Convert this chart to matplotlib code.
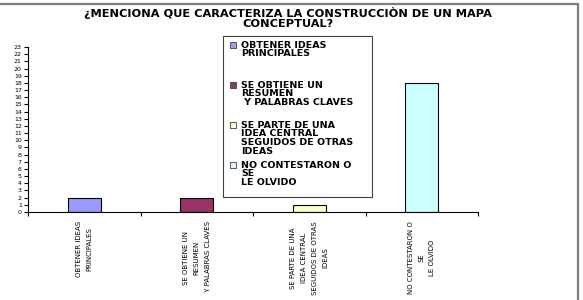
import matplotlib
matplotlib.use("Agg")
import matplotlib.pyplot as plt
from matplotlib.patches import Rectangle

title = "¿MENCIONA QUE CARACTERIZA LA CONSTRUCCIÒN DE UN MAPA\nCONCEPTUAL?"
categories = [
    "OBTENER IDEAS\nPRINCIPALES",
    "SE OBTIENE UN\nRESUMEN\n Y PALABRAS CLAVES",
    "SE PARTE DE UNA\nIDEA CENTRAL\nSEGUIDOS DE OTRAS\nIDEAS",
    "NO CONTESTARON O\nSE\nLE OLVIDO",
]
values = [2, 2, 1, 18]
colors = ["#9999FF", "#993366", "#FFFFCC", "#CCFFFF"]
y_ticks = list(range(0, 24))

W, H = 583, 300
fig = plt.figure(figsize=(W / 100, H / 100), dpi=100)
fig.patch.set_facecolor("white")

# outer frame (only top/right visible in the crop)
fig.patches.append(Rectangle((-0.02, -0.02), 578 / W + 0.02, 1 - 4 / H + 0.02,
                             transform=fig.transFigure, fill=False,
                             edgecolor="#7f7f7f", lw=1.6))

ax = fig.add_axes([28 / W, 1 - 212 / H, 450 / W, 165 / H])
x = list(range(len(values)))
ax.bar(x, values, width=0.29, color=colors, edgecolor="black", linewidth=0.8)
ax.set_xlim(-0.5, len(values) - 0.5)
ax.set_ylim(0, 23)

for s in ["top", "right"]:
    ax.spines[s].set_visible(False)
for s in ["left", "bottom"]:
    ax.spines[s].set_linewidth(0.8)

ax.set_yticks(y_ticks)
ax.tick_params(axis="y", length=3, width=0.8, pad=1.5, labelsize=4.5)

ax.set_xticks([i - 0.5 for i in range(len(values) + 1)])
ax.set_xticklabels([])
ax.tick_params(axis="x", which="major", length=3, width=0.8)
ax.set_xticks(x, categories, minor=True)
ax.tick_params(axis="x", which="minor", length=0, pad=6.5)
for t in ax.get_xticklabels(minor=True):
    t.set_rotation(90)
    t.set_multialignment("center")
    t.set_fontsize(5.0)
    t.set_family("DejaVu Sans")
    t.set_linespacing(1.95)

fig.text(288 / W, 1 - 7 / H, title, ha="center", va="top", fontsize=8.2,
         fontweight="bold", family="DejaVu Sans", linespacing=1.05)

# legend drawn by hand so each entry sits in its own fixed slot
fig.patches.append(Rectangle((223 / W, 1 - 197 / H), 149 / W, 161 / H,
                             transform=fig.transFigure, fill=True,
                             facecolor="white", edgecolor="#404040", lw=0.8, zorder=5))
for i, (lab, c) in enumerate(zip(categories, colors)):
    y0 = 45 + 40 * i
    fig.patches.append(Rectangle((230 / W, 1 - (y0 + 3) / H), 6 / W, 6 / H,
                                 transform=fig.transFigure, facecolor=c,
                                 edgecolor="#404040", lw=0.6, zorder=6))
    for j, line in enumerate(lab.split("\n")):
        fig.text(241 / W, 1 - (y0 + j * 8.7) / H, line, ha="left", va="center",
                 fontsize=6.8, fontweight="bold", family="DejaVu Sans", zorder=7)

fig.savefig("out.png", dpi=100)
